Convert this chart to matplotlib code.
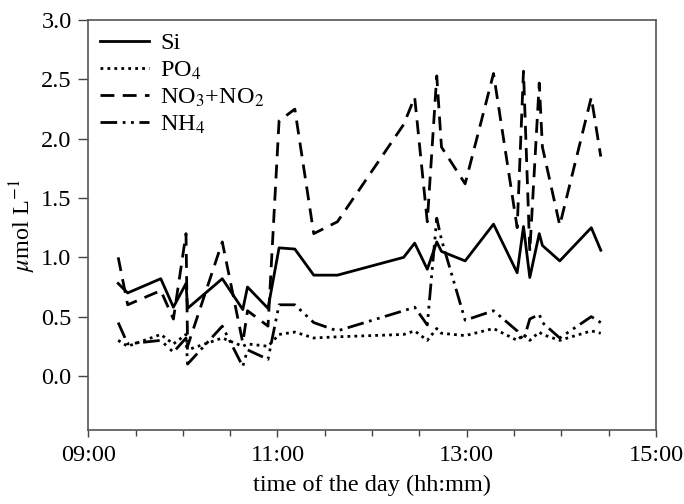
import numpy as np
import pandas as pd
import matplotlib
matplotlib.use('Agg')
import matplotlib.pyplot as plt
import matplotlib.dates as mdates

plt.rcParams['font.family'] = ['Liberation Serif', 'DejaVu Serif']
plt.rcParams['mathtext.fontset'] = 'stix'

# sampling times (hh:mm)
horas = ['09:19', '09:25', '09:46', '09:54', '10:02', '10:03', '10:25', '10:38',
         '10:41', '10:54', '11:01', '11:11', '11:23', '11:38', '12:20', '12:27',
         '12:35', '12:41', '12:44', '12:59', '13:17', '13:32', '13:36', '13:40',
         '13:46', '13:48', '13:59', '14:19', '14:25']

si = [0.78, 0.70, 0.82, 0.58, 0.78, 0.57, 0.82, 0.56,
      0.75, 0.57, 1.08, 1.07, 0.85, 0.85, 1.00, 1.12,
      0.90, 1.13, 1.05, 0.97, 1.28, 0.87, 1.26, 0.83,
      1.20, 1.10, 0.97, 1.25, 1.06]

po4 = [0.30, 0.25, 0.35, 0.27, 0.35, 0.22, 0.32, 0.25,
       0.27, 0.25, 0.35, 0.37, 0.32, 0.33, 0.35, 0.38,
       0.30, 0.40, 0.36, 0.34, 0.40, 0.30, 0.35, 0.30,
       0.37, 0.35, 0.30, 0.38, 0.36]

no3_no2 = [1.00, 0.60, 0.72, 0.48, 1.20, 0.25, 1.13, 0.28,
           0.55, 0.42, 2.15, 2.25, 1.20, 1.30, 2.12, 2.35,
           1.30, 2.53, 1.93, 1.62, 2.55, 1.25, 2.57, 1.05,
           2.47, 1.93, 1.27, 2.35, 1.85]

nh4 = [0.45, 0.27, 0.30, 0.20, 0.32, 0.10, 0.42, 0.08,
       0.22, 0.14, 0.60, 0.60, 0.45, 0.38, 0.55, 0.58,
       0.43, 1.33, 1.15, 0.47, 0.55, 0.38, 0.30, 0.48,
       0.52, 0.45, 0.32, 0.50, 0.45]

t = pd.to_datetime(['2000-01-01 ' + h for h in horas])

fig = plt.figure(figsize=(6.84, 5.04), dpi=100)
ax = fig.add_axes([0.129, 0.147, 0.830, 0.813])

lw = 2.0
ax.plot(t, si, color='black', lw=lw, ls='-', label='Si')
ax.plot(t, po4, color='black', lw=lw, ls=(0, (1, 1.5)), label='PO$_4$')
ax.plot(t, no3_no2, color='black', lw=lw, ls=(0, (5, 3)), label='NO$_3$+NO$_2$')
ax.plot(t, nh4, color='black', lw=lw, ls=(0, (6, 2, 1, 2, 1, 2)), label='NH$_4$')

ax.set_xlim(pd.Timestamp('2000-01-01 09:00'), pd.Timestamp('2000-01-01 15:00'))
ax.set_ylim(-0.455, 3.0)
ax.set_yticks(np.arange(0, 3.01, 0.5))
ax.yaxis.set_major_formatter(matplotlib.ticker.FormatStrFormatter('%.1f'))
ax.xaxis.set_major_locator(mdates.HourLocator(byhour=[9, 11, 13, 15]))
ax.xaxis.set_minor_locator(mdates.MinuteLocator(byminute=[0, 30]))
ax.xaxis.set_major_formatter(mdates.DateFormatter('%H:%M'))

fs = 17.5
ax.tick_params(axis='both', which='major', labelsize=fs, length=5, width=1,
               direction='out', color='#444444', pad=5)
ax.tick_params(axis='x', which='major', pad=6)
ax.tick_params(axis='y', which='major', length=7)
ax.tick_params(axis='x', which='minor', length=4.5, width=1, color='#444444')
ax.tick_params(top=False, right=False)
for s in ax.spines.values():
    s.set_color('#555555')
    s.set_linewidth(1.2)

ax.set_xlabel('time of the day (hh:mm)', fontsize=fs, labelpad=6)
ax.set_ylabel(r'$\mu$mol L$^{-1}$', fontsize=fs, labelpad=2)

leg = ax.legend(loc='upper left', frameon=False, fontsize=fs, handlelength=2.0,
                labelspacing=0.2, borderaxespad=0.1, handletextpad=0.45)

fig.savefig('out.png', dpi=100)
